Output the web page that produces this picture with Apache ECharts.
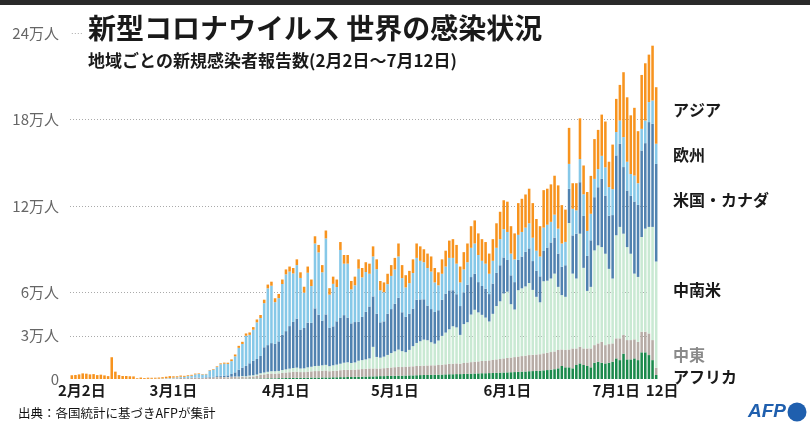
<!DOCTYPE html>
<html><head><meta charset="utf-8">
<script src="https://cdn.jsdelivr.net/npm/echarts@6/dist/echarts.min.js"></script>
<style>html,body{margin:0;padding:0;background:#fff}#c{width:810px;height:429px}</style>
</head><body><div id="c"></div>
<script>
// Daily new cases by region, unit: 1,000 people (千人)
const dates = [
 '2/2','2/3','2/4','2/5','2/6','2/7','2/8','2/9','2/10','2/11','2/12','2/13','2/14','2/15','2/16','2/17','2/18','2/19','2/20','2/21','2/22','2/23','2/24','2/25','2/26','2/27','2/28','2/29',
 '3/1','3/2','3/3','3/4','3/5','3/6','3/7','3/8','3/9','3/10','3/11','3/12','3/13','3/14','3/15','3/16','3/17','3/18','3/19','3/20','3/21','3/22','3/23','3/24','3/25','3/26','3/27','3/28','3/29','3/30','3/31',
 '4/1','4/2','4/3','4/4','4/5','4/6','4/7','4/8','4/9','4/10','4/11','4/12','4/13','4/14','4/15','4/16','4/17','4/18','4/19','4/20','4/21','4/22','4/23','4/24','4/25','4/26','4/27','4/28','4/29','4/30',
 '5/1','5/2','5/3','5/4','5/5','5/6','5/7','5/8','5/9','5/10','5/11','5/12','5/13','5/14','5/15','5/16','5/17','5/18','5/19','5/20','5/21','5/22','5/23','5/24','5/25','5/26','5/27','5/28','5/29','5/30','5/31',
 '6/1','6/2','6/3','6/4','6/5','6/6','6/7','6/8','6/9','6/10','6/11','6/12','6/13','6/14','6/15','6/16','6/17','6/18','6/19','6/20','6/21','6/22','6/23','6/24','6/25','6/26','6/27','6/28','6/29','6/30',
 '7/1','7/2','7/3','7/4','7/5','7/6','7/7','7/8','7/9','7/10','7/11','7/12'
];

const africa = [
 0,0,0,0,0,0,0,0,0,0,0,0,0,0,0,0,0,0,0,0,0,0,0,0,0,0,0,0,
 0,0,0,0,0,0,0,0,0,0.01,0.01,0.02,0.02,0.03,0.04,0.05,
 0.1,0.1,0.2,0.2,0.2,0.3,0.3,0.3,0.4,0.4,0.5,0.5,0.5,0.6,0.6,
 0.7,0.7,0.8,0.8,0.8,0.9,0.9,1.0,1.0,1.0,1.1,1.1,
 1.1,1.2,1.2,1.3,1.3,1.4,1.4,1.5,1.5,1.6,1.7,1.8,1.8,1.9,2.0,2.0,2.1,2.2,2.2,
 2.3,2.3,2.4,2.5,2.5,2.6,2.7,2.8,2.8,2.9,
 3.0,3.0,3.1,3.2,3.3,3.3,3.4,3.4,3.5,3.6,
 3.7,3.8,3.9,4.0,4.0,4.1,4.2,4.3,4.4,4.5,
 4.6,4.7,4.8,5.0,5.1,5.2,5.4,5.5,5.6,5.7,6.0,6.2,6.5,6.8,
 7.4,9.0,8.1,8.1,7.4,9.7,10.8,9.7,9.0,8.1,11.3,12.0,11.3,10.8,11.3,12.0,14.3,13.1,17.6,13.6,13.6,14.3,13.1,18.5,18.5,16.6,13.1,2.8
];
const middleEast = [
 0,0,0,0,0,0,0,0,0,0,0,0,0,0,0,0,0,0,0.005,0.02,0.01,0.03,0.05,0.1,0.07,0.15,0.2,0.2,
 0.45,0.55,0.8,0.6,0.6,0.8,1.0,0.8,0.6,0.9,1.0,1.1,1.3,1.4,1.2,1.1,
 1.3,1.3,1.1,1.3,1.1,1.4,1.5,1.8,2.5,2.8,3.0,3.3,3.2,3.3,3.6,
 3.8,4.0,4.2,4.3,4.0,3.9,4.2,4.3,4.5,4.5,4.6,4.8,
 4.3,4.4,4.6,4.8,5.0,5.0,4.9,5.0,5.2,5.3,5.4,5.5,5.5,5.4,5.3,5.5,5.6,5.8,6.0,
 6.1,6.0,6.2,6.2,6.3,6.4,6.5,6.5,6.6,6.6,
 6.5,6.7,6.8,7.0,7.2,7.3,7.4,7.2,7.6,7.8,
 8.0,8.2,8.3,8.5,8.6,8.8,9.0,9.3,9.5,9.8,
 10.0,10.2,10.4,10.6,10.8,11.0,11.2,11.3,11.4,11.5,11.8,12.0,12.2,12.3,
 12.7,11.5,12.0,12.4,13.8,11.5,11.6,11.5,12.2,13.1,12.2,12.7,14.5,12.7,12.9,12.7,13.9,15.1,12.9,13.4,13.4,13.2,12.7,14.3,14.3,15.0,13.9,5.0
];
const latinAmerica = [
 0,0,0,0,0,0,0,0,0,0,0,0,0,0,0,0,0,0,0,0,0,0,0,0,0,0,0,0,
 0,0,0,0,0,0,0,0,0.02,0.02,0.03,0.03,0.05,0.1,0.1,0.15,
 0.2,0.3,0.4,0.5,0.6,0.7,0.8,1.0,1.1,1.3,1.5,1.6,1.7,1.7,2.0,
 2.2,2.5,2.6,2.8,2.5,2.6,3.0,3.2,3.5,3.6,3.8,3.9,
 3.5,3.9,4.2,4.5,5.0,5.2,4.8,5.0,6.0,6.2,6.5,7.0,15.0,8.0,7.5,8.0,9.0,10.0,11.0,
 12,11,10,11.5,14,16,17,18,17.5,16,
 15,17,20,22,24,26,25,20,27,28,
 33,36,34,32,30,27,32,37,40,45,
 46,37,33,46,47,48,50,45,40,36,50,50,51,54,
 43.8,37.7,36.9,87.7,51.9,48.5,78.4,55.9,39.9,42.7,65.7,68.0,65.7,63.4,52.2,45.0,71.5,77.3,70.3,64.5,59.9,45.6,45.0,65.7,71.5,73.9,78.5,73.7
];
const usCanada = [
 0,0,0,0,0,0,0,0,0,0,0,0,0,0,0,0,0,0,0,0,0,0,0,0,0,0,0,0,
 0.02,0.02,0.03,0.05,0.08,0.1,0.1,0.15,0.2,0.3,0.4,0.4,0.6,0.7,1.0,1.2,
 1.9,2.9,4.8,5.9,7.2,8.5,10.0,10.8,12.0,17.5,18.5,19.5,19.0,20.5,24.5,
 26.5,29.5,32.0,34.0,27.0,28.0,31.0,30.5,40.0,35.5,31.0,35.0,
 26.5,27.0,30.0,32.0,33.0,31.0,27.5,28.0,27.0,30.0,33.0,36.0,35.0,30.0,24.5,24.5,28.5,30.5,33.0,
 36.0,27.0,24.5,25.0,26.0,30.0,29.0,28.0,24.0,23.0,
 22,21,25,27,27,25,23,20,22,26,
 26,25,21,20,20,19,21,23,25,25,
 22,20,19,21,22,24,24,20,18,18,21,23,25,25,
 23.1,19.6,21.9,23.7,26.5,31.1,35.7,36.0,24.3,32.3,36.9,40.3,47.3,40.3,36.9,44.0,55.4,57.7,46.2,39.2,40.3,50.0,50.0,60.0,59.3,72.7,71.5,67.7
];
const europe = [
 0,0,0,0,0,0,0,0,0,0,0,0,0,0,0,0,0,0,0,0,0.08,0.08,0.1,0.1,0.15,0.2,0.3,0.4,
 0.5,0.6,0.75,0.85,1.3,1.4,2.1,2.5,2.3,2.0,4.5,5.0,6.3,8.0,8.3,8.0,
 8.9,11.1,15.1,16.4,20.9,19.7,21.6,25.4,26.3,30.6,39.4,39.8,28.9,30.0,35.2,
 39.4,37.8,33.6,37.1,35.8,24.5,34.6,25.5,45.0,43.2,33.5,52.7,
 23.1,29.5,23.8,46.9,35.7,37.4,23.6,25.5,36.8,27.4,27.6,22.7,27.7,30.9,22.2,20.2,20.6,23.0,23.8,
 28.6,23.7,20.4,21.3,24.7,29.0,26.8,25.7,26.1,26.0,
 20.5,17.3,18.1,18.8,22.5,22.4,21.2,16.4,15.9,15.6,
 20.3,21.0,18.8,17.5,17.4,14.1,15.8,17.4,18.1,19.7,
 19.4,15.1,15.8,17.4,17.1,16.8,17.4,16.2,14.0,13.8,16.2,15.8,14.3,15.9,
 17.3,16.2,16.2,17.3,18.5,16.2,16.1,15.0,17.3,18.4,12.7,12.6,16.0,19.6,19.8,18.0,16.2,16.1,20.8,20.0,15.0,18.0,15.0,15.0,15.7,13.9,16.2,14.0
];
const asia = [
 2.6,2.8,3.2,3.9,3.7,3.2,3.4,2.7,3.0,2.5,2.0,15.1,5.1,2.7,2.1,2.1,1.9,1.8,0.5,1.0,0.6,0.8,0.7,0.7,0.8,0.9,1.1,1.4,
 0.9,0.7,0.8,0.7,0.6,0.6,0.55,0.4,0.3,0.3,0.3,0.4,0.5,0.6,0.7,0.8,
 1.2,1.3,1.4,1.5,1.6,1.7,1.8,2.0,2.1,2.4,2.6,2.8,2.7,2.9,3.1,
 3.4,3.5,3.8,4.0,3.9,4.1,4.3,4.5,5.0,5.2,5.0,5.5,
 4.5,5.0,5.2,5.5,6.0,6.0,5.8,6.0,6.5,6.5,6.8,7.0,7.0,6.8,6.5,6.8,7.2,7.5,8.0,
 9.0,9.0,8.5,8.5,9.5,10,10,9,10,10.5,
 10,9,10,11,12,13,13,11,12,13,
 15,16,15,15,15,14,15,17,19,20,
 21,19,18,22,23,23,24,24,22,21,26,25,26,27,
 30.0,26.6,22.4,25.0,17.7,18.8,28.2,20.0,27.0,26.3,27.6,27.2,28.6,31.8,17.6,30.9,23.0,24.7,45.0,44.7,40.7,47.0,36.1,37.4,39.7,32.9,38.0,39.2
];

const regionNames = ['アフリカ','中東','中南米','米国・カナダ','欧州','アジア'];
const regionColors = ['#1b8a4c','#b7aca6','#c9e9d3','#5082b0','#86c8e8','#f7931e'];

const yTicks = [0, 30, 60, 120, 180, 240];
const yTickLabels = ['0','3万人','6万人','12万人','18万人','24万人'];
const gridValues = [30, 60, 120, 180];

const xLabelDates = ['2/2','3/1','4/1','5/1','6/1','7/1','7/12'];
const xLabelTexts = ['2月2日','3月1日','4月1日','5月1日','6月1日','7月1日','12日'];

const FONT = "'Noto Sans CJK JP','Noto Sans',sans-serif";
const seriesData = [africa, middleEast, latinAmerica, usCanada, europe, asia];

const chart = echarts.init(document.getElementById('c'), null, {renderer: 'canvas'});

const gridLineData = gridValues.map(v => ({yAxis: v}));
gridLineData.push([{xAxis: dates[0], yAxis: 240}, {xAxis: dates[3], yAxis: 240}]);

const series = seriesData.map((d, k) => ({
  name: regionNames[k],
  type: 'bar',
  stack: 'total',
  data: d,
  barWidth: '70%',
  z: 2,
  itemStyle: {color: regionColors[k]},
  emphasis: {disabled: true},
  markLine: k === 0 ? {
    silent: true, symbol: 'none', z: 1,
    label: {show: false},
    lineStyle: {type: [1, 2], color: '#aaaaaa', width: 1},
    data: gridLineData
  } : undefined
}));

const labelY = [377, 355, 290, 200, 155, 110];
const labelColor = ['#1a1a1a','#8a8a8a','#1a1a1a','#1a1a1a','#1a1a1a','#1a1a1a'];

const graphic = [
  {type: 'rect', shape: {x: 0, y: 0, width: 810, height: 5}, style: {fill: '#2a2a2a'}},
  {type: 'text', x: 88, y: 28, style: {text: '新型コロナウイルス 世界の感染状況', fontFamily: FONT, fontSize: 28, fontWeight: 'bold', fill: '#1a1a1a', verticalAlign: 'middle'}},
  {type: 'text', x: 88, y: 61, style: {text: '地域ごとの新規感染者報告数(2月2日～7月12日)', fontFamily: FONT, fontSize: 17, fontWeight: 'bold', fill: '#1a1a1a', verticalAlign: 'middle'}},
  {type: 'text', x: 18, y: 413, style: {text: '出典：各国統計に基づきAFPが集計', fontFamily: FONT, fontSize: 12.5, fill: '#111', verticalAlign: 'middle'}},
  {type: 'text', x: 786, y: 412, style: {text: 'AFP', fontFamily: "'Liberation Sans', Arial, sans-serif", fontSize: 19, fontWeight: 'bold', fontStyle: 'italic', fill: '#1f5fae', align: 'right', verticalAlign: 'middle'}},
  {type: 'circle', shape: {cx: 797, cy: 412, r: 9.5}, style: {fill: '#1f5fae'}}
];
regionNames.forEach((n, k) => {
  graphic.push({type: 'text', x: 673, y: labelY[k], style: {text: n, fontFamily: FONT, fontSize: 16, fontWeight: 'bold', fill: labelColor[k], verticalAlign: 'middle'}});
});

chart.setOption({
  animation: false,
  textStyle: {fontFamily: FONT},
  grid: {left: 70, right: 152, top: 33, bottom: 50},
  xAxis: {
    type: 'category', data: dates, boundaryGap: true,
    axisLine: {show: false}, axisTick: {show: false},
    axisLabel: {
      interval: (i, v) => xLabelDates.indexOf(v) >= 0,
      margin: 4, color: '#1a1a1a', fontSize: 15, fontFamily: FONT, fontWeight: 'bold',
      formatter: (v) => {
        const j = xLabelDates.indexOf(v);
        if (j < 0) return '';
        if (j === 0) return '{f|' + xLabelTexts[j] + '}';
        if (j === xLabelDates.length - 1) return '{l|' + xLabelTexts[j] + '}';
        return '{m|' + xLabelTexts[j] + '}';
      },
      rich: {
        f: {fontSize: 15, fontFamily: FONT, fontWeight: 'bold', color: '#1a1a1a', padding: [0, 0, 0, 20]},
        l: {fontSize: 15, fontFamily: FONT, fontWeight: 'bold', color: '#1a1a1a', padding: [0, 0, 0, 12]},
        m: {fontSize: 15, fontFamily: FONT, fontWeight: 'bold', color: '#1a1a1a'}
      }
    }
  },
  yAxis: {
    type: 'value', min: 0, max: 240, interval: 30,
    axisLine: {show: false}, axisTick: {show: false}, splitLine: {show: false},
    axisLabel: {
      margin: 11, color: '#666', fontSize: 15, fontFamily: FONT,
      formatter: (v) => {
        const j = yTicks.indexOf(v);
        return j >= 0 ? yTickLabels[j] : '';
      }
    }
  },
  series: series,
  graphic: graphic
});
</script>
</body></html>
